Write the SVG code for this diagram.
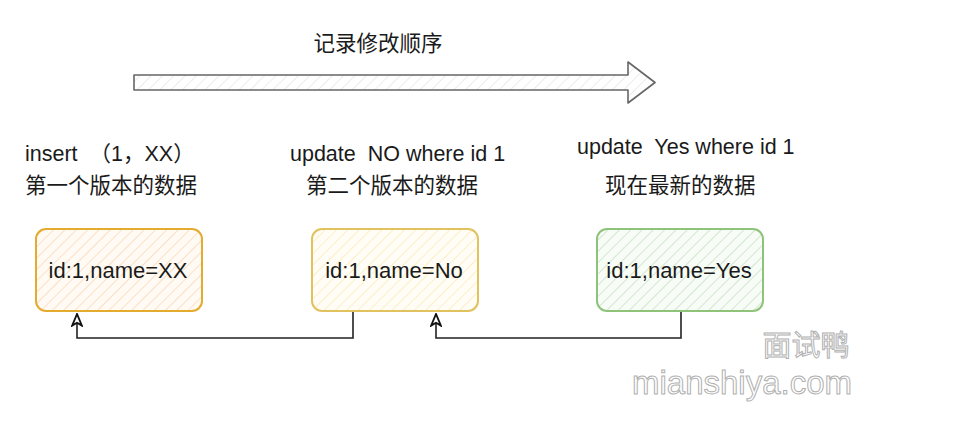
<svg xmlns="http://www.w3.org/2000/svg" width="973" height="427" viewBox="0 0 973 427">
<style>
.lbl{font-family:"Liberation Sans","Noto Sans CJK SC",sans-serif;font-size:21.5px;fill:#1a1a1a}
.box{stroke-width:2}
.btxt{font-family:"Liberation Sans","Noto Sans CJK SC",sans-serif;font-size:22px;fill:#1a1a1a;text-anchor:middle}
.wire{fill:none;stroke:#222;stroke-width:1.6}
.wm{font-family:"Liberation Sans","Noto Sans CJK SC",sans-serif;fill:#fff;stroke:#b0b0b0;stroke-width:1}
</style>
<defs>
<pattern id="hOr" width="8" height="8" patternUnits="userSpaceOnUse" patternTransform="rotate(45)">
<rect width="8" height="8" fill="#fffaf4"/><line x1="0" y1="0" x2="0" y2="8" stroke="#fbe0c6" stroke-width="2"/></pattern>
<pattern id="hYe" width="8" height="8" patternUnits="userSpaceOnUse" patternTransform="rotate(45)">
<rect width="8" height="8" fill="#fffdf5"/><line x1="0" y1="0" x2="0" y2="8" stroke="#fbefc8" stroke-width="2"/></pattern>
<pattern id="hGr" width="8" height="8" patternUnits="userSpaceOnUse" patternTransform="rotate(45)">
<rect width="8" height="8" fill="#f8fcf7"/><line x1="0" y1="0" x2="0" y2="8" stroke="#d3e7d0" stroke-width="2"/></pattern>
<pattern id="hGy" width="8" height="8" patternUnits="userSpaceOnUse" patternTransform="rotate(45)">
<rect width="8" height="8" fill="#ffffff"/><line x1="0" y1="0" x2="0" y2="8" stroke="#ececec" stroke-width="2"/></pattern>
<marker id="arr" markerWidth="14" markerHeight="12" refX="11" refY="5" orient="auto" markerUnits="userSpaceOnUse" viewBox="0 0 12 10">
<path d="M11,5 L1,0.8 L3.5,5 L1,9.2 Z" fill="#fff" stroke="#111" stroke-width="1.6" stroke-linejoin="miter"/>
</marker>
</defs>

<g id="order-arrow">
<path d="M134,75 L628,75 L628,62 L655,82.5 L628,103 L628,90 L134,90 Z" fill="url(#hGy)" stroke="#666" stroke-width="1.6" stroke-linejoin="round"/>
<text class="lbl" x="378" y="51" text-anchor="middle">记录修改顺序</text>
</g>

<g id="labels">
<text class="lbl" x="25" y="161" xml:space="preserve">insert  （1，XX）</text>
<text class="lbl" x="25" y="193">第一个版本的数据</text>
<text class="lbl" x="290" y="161" xml:space="preserve">update  NO where id 1</text>
<text class="lbl" x="306" y="193">第二个版本的数据</text>
<text class="lbl" x="577" y="154" xml:space="preserve">update  Yes where id 1</text>
<text class="lbl" x="605" y="193">现在最新的数据</text>
</g>

<g id="node-v1">
<rect class="box" x="36" y="229" width="166" height="82" rx="10" fill="url(#hOr)" stroke="#e4ac2e"/>
<text class="btxt" x="118" y="278">id:1,name=XX</text>
</g>
<g id="node-v2">
<rect class="box" x="312" y="229" width="166" height="82" rx="10" fill="url(#hYe)" stroke="#e2c25e"/>
<text class="btxt" x="394" y="278">id:1,name=No</text>
</g>
<g id="node-v3">
<rect class="box" x="597" y="229" width="166" height="82" rx="10" fill="url(#hGr)" stroke="#8fc37a"/>
<text class="btxt" x="679" y="278">id:1,name=Yes</text>
</g>

<g id="connectors">
<path class="wire" d="M353,312 L353,338 L77,338 L77,314" marker-end="url(#arr)"/>
<path class="wire" d="M681,312 L681,338 L436,338 L436,314" marker-end="url(#arr)"/>
</g>

<g id="watermark">
<text class="wm" x="806" y="356" font-size="29" text-anchor="middle">面试鸭</text>
<text class="wm" x="742" y="394" font-size="33" text-anchor="middle">mianshiya.com</text>
</g>
</svg>
